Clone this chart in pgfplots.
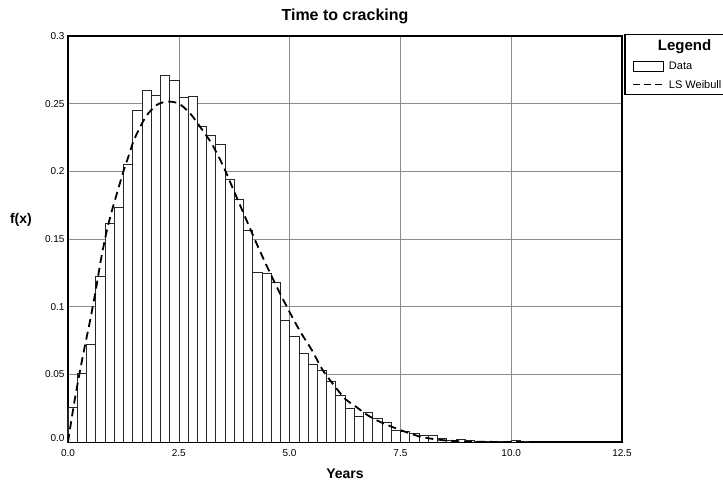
\documentclass[border=0pt]{standalone}
\usepackage{pgfplots}
\pgfplotsset{compat=1.18}
\usepackage{fontspec}
\setmainfont{Liberation Sans}
\usetikzlibrary{calc}

\begin{document}
\begin{tikzpicture}
\begin{axis}[
    scale only axis,
    width=554pt,
    height=406pt,
    xmin=0, xmax=12.5,
    ymin=0, ymax=0.3,
    xtick={0,2.5,5,7.5,10,12.5},
    xticklabels={0.0,2.5,5.0,7.5,10.0,12.5},
    ytick={0,0.05,0.1,0.15,0.2,0.25,0.3},
    yticklabels={\raisebox{8pt}{0.0},0.05,0.1,0.15,0.2,0.25,0.3},
    /pgf/number format/assume math mode=true,
    grid=major,
    grid style={black!45, line width=0.6pt},
    major tick length=0pt,
    axis line style={line width=2pt},
    tick label style={font=\fontsize{10}{12}\selectfont},
    xticklabel style={anchor=base, yshift=-15pt},
    title={Time to cracking},
    title style={at={(axis description cs:0.5,1)}, anchor=base, yshift=9pt,
        font=\bfseries\fontsize{16}{18}\selectfont},
    xlabel={Years},
    xlabel style={at={(axis description cs:0.5,0)}, anchor=base, yshift=-37pt,
        font=\bfseries\fontsize{14}{16}\selectfont},
    ylabel={f(x)},
    ylabel style={at={(axis description cs:-0.085,0.547)}, rotate=-90, anchor=center,
        font=\bfseries\fontsize{14}{16}\selectfont},
    legend cell align=left,
    legend style={at={(axis description cs:1.0036,1.005)}, anchor=north west,
        draw=black, line width=1.5pt, inner xsep=8pt, inner ysep=3pt,
        row sep=5.5pt, font=\fontsize{11}{13}\selectfont},
]
\coordinate (bl) at (rel axis cs:0,0);
\coordinate (tr) at (rel axis cs:1,1);

\addlegendimage{empty legend}
\addlegendentry{\hspace*{-11pt}\bfseries\fontsize{15}{17}\selectfont Legend}

% histogram, 60 bins of 12.5/60 years
\addplot[ybar interval, fill=white, draw=black!85, line width=0.6pt,
    legend image code/.code={\draw[black, line width=0.6pt, fill=white] (0pt,-5pt) rectangle (30pt,5pt);}]
coordinates {
(0,0.0254) (0.2083,0.0508) (0.4167,0.0724) (0.625,0.1222) (0.8333,0.1619)
(1.0417,0.1732) (1.25,0.2052) (1.4583,0.2452) (1.6667,0.2599) (1.875,0.2562)
(2.0833,0.2708) (2.2917,0.2676) (2.5,0.2547) (2.7083,0.2555) (2.9167,0.2331)
(3.125,0.2268) (3.3333,0.2202) (3.5417,0.1941) (3.75,0.1794) (3.9583,0.1564)
(4.1667,0.1256) (4.375,0.1246) (4.5833,0.1178) (4.7917,0.0902) (5,0.0781)
(5.2083,0.0652) (5.4167,0.0576) (5.625,0.0527) (5.8333,0.0451) (6.0417,0.0347)
(6.25,0.0251) (6.4583,0.0192) (6.6667,0.0217) (6.875,0.0172) (7.0833,0.0143)
(7.2917,0.0089) (7.5,0.0081) (7.7083,0.0066) (7.9167,0.0049) (8.125,0.0047)
(8.3333,0.0027) (8.5417,0.0015) (8.75,0.0020) (8.9583,0.0010) (9.1667,0.0006)
(9.375,0.0008) (9.5833,0.0004) (9.7917,0.0008) (10,0.0009) (10.2083,0.0008)
(10.4167,0.0008)
};
\addlegendentry{Data}

% fitted least-squares Weibull density
\addplot[smooth, black, line width=1.8pt, dash pattern=on 8pt off 5pt,
    legend image code/.code={\draw[black, line width=1.2pt, dash pattern=on 7pt off 4pt] (0pt,0pt) -- (33pt,0pt);}]
coordinates {
(0,0) (0.125,0.026) (0.25,0.049) (0.375,0.070) (0.5,0.090) (0.625,0.112)
(0.75,0.136) (0.875,0.156) (1.0,0.172) (1.125,0.186) (1.25,0.200) (1.375,0.212)
(1.5,0.224) (1.75,0.240) (2.0,0.249) (2.25,0.2515) (2.5,0.250) (2.75,0.243)
(3.0,0.232) (3.25,0.220) (3.5,0.204) (3.75,0.185) (4.0,0.166) (4.25,0.147)
(4.5,0.129) (4.75,0.112) (5.0,0.096) (5.25,0.081) (5.5,0.068) (5.75,0.053)
(6.0,0.042) (6.25,0.032) (6.5,0.026) (6.75,0.020) (7.0,0.0155) (7.25,0.012)
(7.5,0.0088) (7.75,0.006) (8.0,0.0035) (8.5,0.0012) (9.0,0.0004) (9.5,0.0001)
(10,0) (12.5,0)
};
\addlegendentry{LS Weibull}
\end{axis}
\pgfresetboundingbox
\path[use as bounding box] ($(bl)+(-68pt,-42pt)$) rectangle ($(tr)+(101pt,36pt)$);
\end{tikzpicture}
\end{document}
